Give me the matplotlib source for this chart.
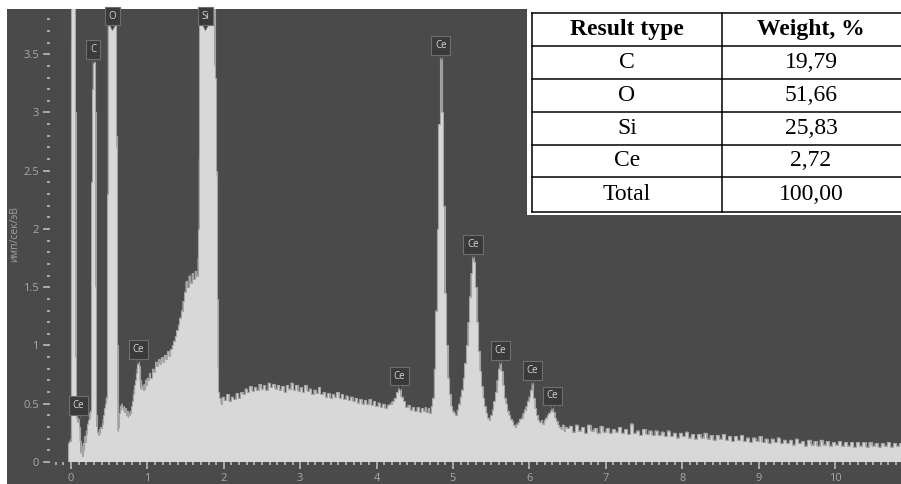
import numpy as np
import matplotlib
matplotlib.use("Agg")
import matplotlib.pyplot as plt
import matplotlib.transforms as mtransforms
from matplotlib.patches import Rectangle
from matplotlib.ticker import MultipleLocator

# EDS spectrum (keV -> imp/s/eV)
low_kev = [-0.04, -0.03, -0.01, -0.002, 0.0, 0.01, 0.05, 0.058, 0.064, 0.07,
           0.08, 0.09, 0.10, 0.11, 0.12, 0.13, 0.14, 0.15, 0.16, 0.17,
           0.18, 0.19, 0.20, 0.21, 0.22, 0.23, 0.24, 0.25, 0.26, 0.265,
           0.27, 0.28, 0.29, 0.31, 0.32, 0.325, 0.33, 0.34, 0.35, 0.36,
           0.37, 0.38, 0.39, 0.40, 0.41, 0.42, 0.43, 0.44, 0.45, 0.46,
           0.47, 0.478, 0.485, 0.49, 0.59, 0.595, 0.60, 0.607, 0.615, 0.625,
           0.635, 0.645, 0.655, 0.665, 0.675, 0.685, 0.695, 0.705, 0.715, 0.725,
           0.735, 0.745, 0.755, 0.765, 0.775, 0.785, 0.795, 0.805, 0.815, 0.825,
           0.835, 0.845, 0.855, 0.865, 0.875, 0.885, 0.895, 0.905, 0.915, 0.925,
           0.935, 0.945, 0.955, 0.965, 0.975, 0.985, 0.995, 1.01, 1.03, 1.05,
           1.07, 1.09, 1.11, 1.13, 1.15, 1.17, 1.19, 1.21, 1.23, 1.25,
           1.27, 1.29, 1.31, 1.33, 1.35, 1.37, 1.39, 1.41, 1.43, 1.45,
           1.47, 1.49, 1.51, 1.53, 1.55, 1.57, 1.59, 1.61, 1.63, 1.65,
           1.665, 1.67, 1.675, 1.68, 1.70, 1.76, 1.82, 1.86, 1.875, 1.885,
           1.895, 1.905, 1.912, 1.918, 1.925, 1.935, 1.95, 1.97, 1.99]
low_cps = [0.0, 0.16, 0.18, 0.2, 3.6, 5.0, 5.0, 3.0, 0.9, 0.42,
           0.37, 0.34, 0.38, 0.30, 0.18, 0.08, 0.14, 0.05, 0.16, 0.10,
           0.22, 0.17, 0.27, 0.24, 0.33, 0.36, 0.42, 0.38, 0.44, 0.45,
           2.4, 3.2, 3.43, 3.43, 3.0, 1.5, 0.40, 0.30, 0.26, 0.23,
           0.28, 0.25, 0.30, 0.29, 0.33, 0.37, 0.40, 0.46, 0.50, 0.55,
           0.56, 2.3, 4.5, 5.0, 5.0, 2.8, 2.7, 1.0, 0.27, 0.30,
           0.42, 0.48, 0.45, 0.50, 0.47, 0.45, 0.48, 0.43, 0.46, 0.40,
           0.44, 0.39, 0.42, 0.40, 0.44, 0.42, 0.48, 0.52, 0.58, 0.62,
           0.66, 0.70, 0.76, 0.80, 0.84, 0.86, 0.82, 0.70, 0.63, 0.66,
           0.64, 0.62, 0.67, 0.63, 0.70, 0.66, 0.72, 0.70, 0.76, 0.72,
           0.80, 0.77, 0.86, 0.82, 0.88, 0.84, 0.90, 0.86, 0.92, 0.88,
           0.95, 0.91, 0.97, 1.00, 1.04, 1.08, 1.13, 1.18, 1.24, 1.30,
           1.38, 1.46, 1.55, 1.50, 1.60, 1.54, 1.62, 1.57, 1.64, 1.60,
           1.75, 2.0, 2.6, 4.2, 6.5, 9.0, 8.0, 5.2, 4.2, 3.4,
           3.3, 2.5, 2.45, 1.4, 0.8, 0.60, 0.55, 0.50, 0.56]

mid_kev = [2.02, 2.05, 2.08, 2.11, 2.14, 2.17, 2.20, 2.23, 2.26, 2.29,
           2.32, 2.35, 2.38, 2.41, 2.44, 2.47, 2.50, 2.53, 2.56, 2.59,
           2.62, 2.65, 2.68, 2.71, 2.74, 2.77, 2.80, 2.83, 2.86, 2.89,
           2.92, 2.95, 2.98, 3.01, 3.04, 3.07, 3.10, 3.13, 3.16, 3.19,
           3.22, 3.25, 3.28, 3.31, 3.34, 3.37, 3.40, 3.43, 3.46, 3.49,
           3.52, 3.55, 3.58, 3.61, 3.64, 3.67, 3.70, 3.73, 3.76, 3.79,
           3.82, 3.85, 3.88, 3.91, 3.94, 3.97, 4.00, 4.03, 4.06, 4.09,
           4.12, 4.15, 4.18, 4.21, 4.24, 4.27, 4.30, 4.33, 4.36, 4.39,
           4.42, 4.45, 4.48, 4.51, 4.54, 4.57, 4.60]
mid_cps = [0.53, 0.58, 0.52, 0.56, 0.54, 0.59, 0.55, 0.60, 0.58, 0.63,
           0.60, 0.65, 0.61, 0.64, 0.62, 0.67, 0.63, 0.66, 0.62, 0.68,
           0.64, 0.67, 0.63, 0.66, 0.62, 0.65, 0.60, 0.66, 0.63, 0.68,
           0.62, 0.66, 0.61, 0.64, 0.60, 0.66, 0.61, 0.63, 0.58, 0.62,
           0.59, 0.64, 0.58, 0.60, 0.56, 0.59, 0.55, 0.58, 0.56, 0.60,
           0.55, 0.58, 0.54, 0.57, 0.53, 0.56, 0.52, 0.55, 0.51, 0.54,
           0.50, 0.53, 0.50, 0.54, 0.49, 0.52, 0.48, 0.51, 0.47, 0.50,
           0.46, 0.49, 0.50, 0.52, 0.55, 0.60, 0.63, 0.56, 0.52, 0.47,
           0.49, 0.45, 0.47, 0.44, 0.47, 0.43, 0.46]

ce_kev = [4.62, 4.64, 4.66, 4.68, 4.70, 4.72, 4.74, 4.76, 4.78, 4.80,
          4.82, 4.84, 4.86, 4.88, 4.90, 4.92, 4.94, 4.96, 4.98, 5.00,
          5.02, 5.04, 5.06, 5.08, 5.10, 5.12, 5.14, 5.16, 5.18, 5.20,
          5.22, 5.24, 5.26, 5.28, 5.30, 5.32, 5.34, 5.36, 5.38, 5.40,
          5.42, 5.44, 5.46, 5.48, 5.50, 5.52, 5.54, 5.56, 5.58, 5.60,
          5.62, 5.64, 5.66, 5.68, 5.70, 5.72, 5.74, 5.76, 5.78, 5.80,
          5.82, 5.84, 5.86, 5.88, 5.90, 5.92, 5.94, 5.96, 5.98, 6.00,
          6.02, 6.04, 6.06, 6.08, 6.10, 6.12, 6.14, 6.16, 6.18, 6.20,
          6.22, 6.24, 6.26, 6.28, 6.30, 6.32, 6.34, 6.36, 6.38, 6.40,
          6.42, 6.44, 6.46, 6.48, 6.50]
ce_cps = [0.44, 0.47, 0.43, 0.46, 0.42, 0.48, 0.55, 0.80, 1.30, 2.00,
          2.90, 3.47, 3.00, 2.20, 1.45, 1.00, 0.72, 0.58, 0.48, 0.44,
          0.42, 0.40, 0.45, 0.50, 0.56, 0.62, 0.72, 0.85, 1.00, 1.20,
          1.42, 1.62, 1.76, 1.72, 1.50, 1.20, 0.95, 0.78, 0.65, 0.55,
          0.48, 0.42, 0.38, 0.36, 0.40, 0.45, 0.52, 0.60, 0.70, 0.80,
          0.85, 0.78, 0.66, 0.55, 0.50, 0.44, 0.40, 0.37, 0.35, 0.32,
          0.30, 0.33, 0.34, 0.37, 0.38, 0.42, 0.45, 0.48, 0.52, 0.56,
          0.62, 0.68, 0.55, 0.46, 0.40, 0.36, 0.34, 0.36, 0.33, 0.36,
          0.38, 0.40, 0.42, 0.44, 0.46, 0.43, 0.38, 0.35, 0.32, 0.30,
          0.28, 0.32, 0.27, 0.30, 0.29]

tail_kev = [6.54, 6.58, 6.62, 6.66, 6.70, 6.74, 6.78, 6.82, 6.86, 6.90,
            6.94, 6.98, 7.02, 7.06, 7.10, 7.14, 7.18, 7.22, 7.26, 7.30,
            7.34, 7.38, 7.42, 7.46, 7.50, 7.54, 7.58, 7.62, 7.66, 7.70,
            7.74, 7.78, 7.82, 7.86, 7.90, 7.94, 7.98, 8.02, 8.06, 8.10,
            8.14, 8.18, 8.22, 8.26, 8.30, 8.34, 8.38, 8.42, 8.46, 8.50,
            8.54, 8.58, 8.62, 8.66, 8.70, 8.74, 8.78, 8.82, 8.86, 8.90,
            8.94, 8.98, 9.02, 9.06, 9.10, 9.14, 9.18, 9.22, 9.26, 9.30,
            9.34, 9.38, 9.42, 9.46, 9.50, 9.54, 9.58, 9.62, 9.66, 9.70,
            9.74, 9.78, 9.82, 9.86, 9.90, 9.94, 9.98, 10.02, 10.06, 10.10,
            10.14, 10.18, 10.22, 10.26, 10.30, 10.34, 10.38, 10.42, 10.46, 10.50,
            10.54, 10.58, 10.62, 10.66, 10.70, 10.74, 10.78, 10.82, 10.86, 10.90]
tail_cps = [0.31, 0.26, 0.32, 0.27, 0.30, 0.25, 0.32, 0.27, 0.29, 0.25,
            0.31, 0.26, 0.29, 0.25, 0.28, 0.26, 0.30, 0.25, 0.28, 0.24,
            0.33, 0.25, 0.27, 0.23, 0.28, 0.24, 0.27, 0.23, 0.27, 0.23,
            0.26, 0.22, 0.27, 0.22, 0.25, 0.21, 0.25, 0.22, 0.26, 0.21,
            0.24, 0.20, 0.24, 0.21, 0.25, 0.20, 0.23, 0.19, 0.23, 0.20,
            0.24, 0.19, 0.22, 0.18, 0.22, 0.19, 0.23, 0.18, 0.21, 0.17,
            0.21, 0.18, 0.22, 0.17, 0.20, 0.16, 0.20, 0.17, 0.21, 0.16,
            0.19, 0.16, 0.19, 0.15, 0.20, 0.16, 0.18, 0.14, 0.19, 0.15,
            0.18, 0.14, 0.19, 0.15, 0.18, 0.14, 0.17, 0.15, 0.18, 0.14,
            0.17, 0.14, 0.17, 0.13, 0.17, 0.14, 0.17, 0.13, 0.17, 0.14,
            0.16, 0.13, 0.16, 0.14, 0.17, 0.13, 0.16, 0.14, 0.16, 0.14]

peak_names = ["Ce", "C", "O", "Si", "Ce", "Ce", "Ce", "Ce", "Ce", "Ce", "Ce"]
peak_kev = [0.10, 0.29, 0.54, 1.76, 0.88, 4.30, 4.84, 5.26, 5.62, 6.04, 6.30]

table_cols = ["Result type", "Weight, %"]
table_elements = ["C", "O", "Si", "Ce", "Total"]
table_weights = ["19,79", "51,66", "25,83", "2,72", "100,00"]

kev = np.array(low_kev + mid_kev + ce_kev + tail_kev)
cps = np.array(low_cps + mid_cps + ce_cps + tail_cps)

W, H = 901, 484
dark = "#4a4a4a"
fig = plt.figure(figsize=(W / 100, H / 100), dpi=100, facecolor="white")
fig.patches.append(Rectangle((7 / W, 0), 1, (H - 9) / H, transform=fig.transFigure,
                             facecolor=dark, edgecolor="none", zorder=-5))

ax = fig.add_axes([50 / W, (H - 462) / H, 851 / W, 453 / H])
ax.set_facecolor("none")
ax.set_xlim(-0.275, 10.864)
ax.set_ylim(0, 3.888)

ax.fill_between(kev, cps, 0, step="mid", color="#d8d8d8", lw=0, zorder=2)
ax.plot(kev, cps, drawstyle="steps-mid", color="#a4a4a4", lw=0.8, zorder=3)

for s in ax.spines.values():
    s.set_visible(False)
ax.xaxis.set_major_locator(MultipleLocator(1))
ax.xaxis.set_minor_locator(MultipleLocator(0.1))
ax.yaxis.set_major_locator(MultipleLocator(0.5))
ax.yaxis.set_minor_locator(MultipleLocator(0.1))
ax.yaxis.set_major_formatter(plt.FuncFormatter(lambda v, p: f"{v:g}"))
ax.tick_params(which="both", direction="out", color="#c4c4c4", labelcolor="#a8a8a8",
               labelsize=8, width=1.1)
ax.tick_params(which="major", length=5, pad=3)
ax.tick_params(which="minor", length=2.2)
for lab in ax.get_xticklabels() + ax.get_yticklabels():
    lab.set_family("Open Sans")

fig.text(15 / W, 1 - 234 / H, "имп/сек/эВ", rotation=90, ha="center", va="center",
         fontsize=7.5, color="#a0a0a0", family="Open Sans")

# peak markers
txt_tr = mtransforms.offset_copy(ax.transData, fig=fig, y=7, units="dots")
tri_tr = mtransforms.offset_copy(ax.transData, fig=fig, y=2, units="dots")
for name, e in zip(peak_names, peak_kev):
    near = np.abs(kev - e) <= 0.025
    h = np.interp(e, kev, cps)
    if near.any():
        h = max(h, cps[near].max())
    h = min(h, 3.72)
    ax.plot([e], [h], marker="v", ms=5, color="#3a3a3a", mec="#6e6e6e", mew=0.6,
            transform=tri_tr, zorder=4, clip_on=False)
    ax.text(e, h, name, transform=txt_tr, ha="center", va="bottom", fontsize=7,
            color="#d4d4d4", family="Open Sans", zorder=5,
            bbox=dict(boxstyle="square,pad=0.4", fc="#3a3a3a", ec="#6e6e6e", lw=0.8))

# results table
tax = fig.add_axes([527 / W, 1 - 215 / H, 374 / W, 215 / H])
tax.set_xlim(527, 901)
tax.set_ylim(215, 0)
tax.set_facecolor("white")
tax.set_xticks([])
tax.set_yticks([])
for s in tax.spines.values():
    s.set_visible(False)
rows_y = [12.7, 46, 79, 112, 144.5, 177, 211.5]
for y in rows_y:
    tax.plot([532, 905], [y, y], color="black", lw=1.1, clip_on=False)
for x in [532, 722]:
    tax.plot([x, x], [12.7, 211.5], color="black", lw=1.1)
cx = [627, 811]
for j, c in enumerate(table_cols):
    tax.text(cx[j], (rows_y[0] + rows_y[1]) / 2, c, ha="center", va="center",
             fontsize=17, fontweight="bold", family="Liberation Serif")
for i, (el, w) in enumerate(zip(table_elements, table_weights)):
    yc = (rows_y[i + 1] + rows_y[i + 2]) / 2
    tax.text(cx[0], yc, el, ha="center", va="center", fontsize=17, family="Liberation Serif")
    tax.text(cx[1], yc, w, ha="center", va="center", fontsize=17, family="Liberation Serif")

fig.savefig("out.png", dpi=100, facecolor="white")
